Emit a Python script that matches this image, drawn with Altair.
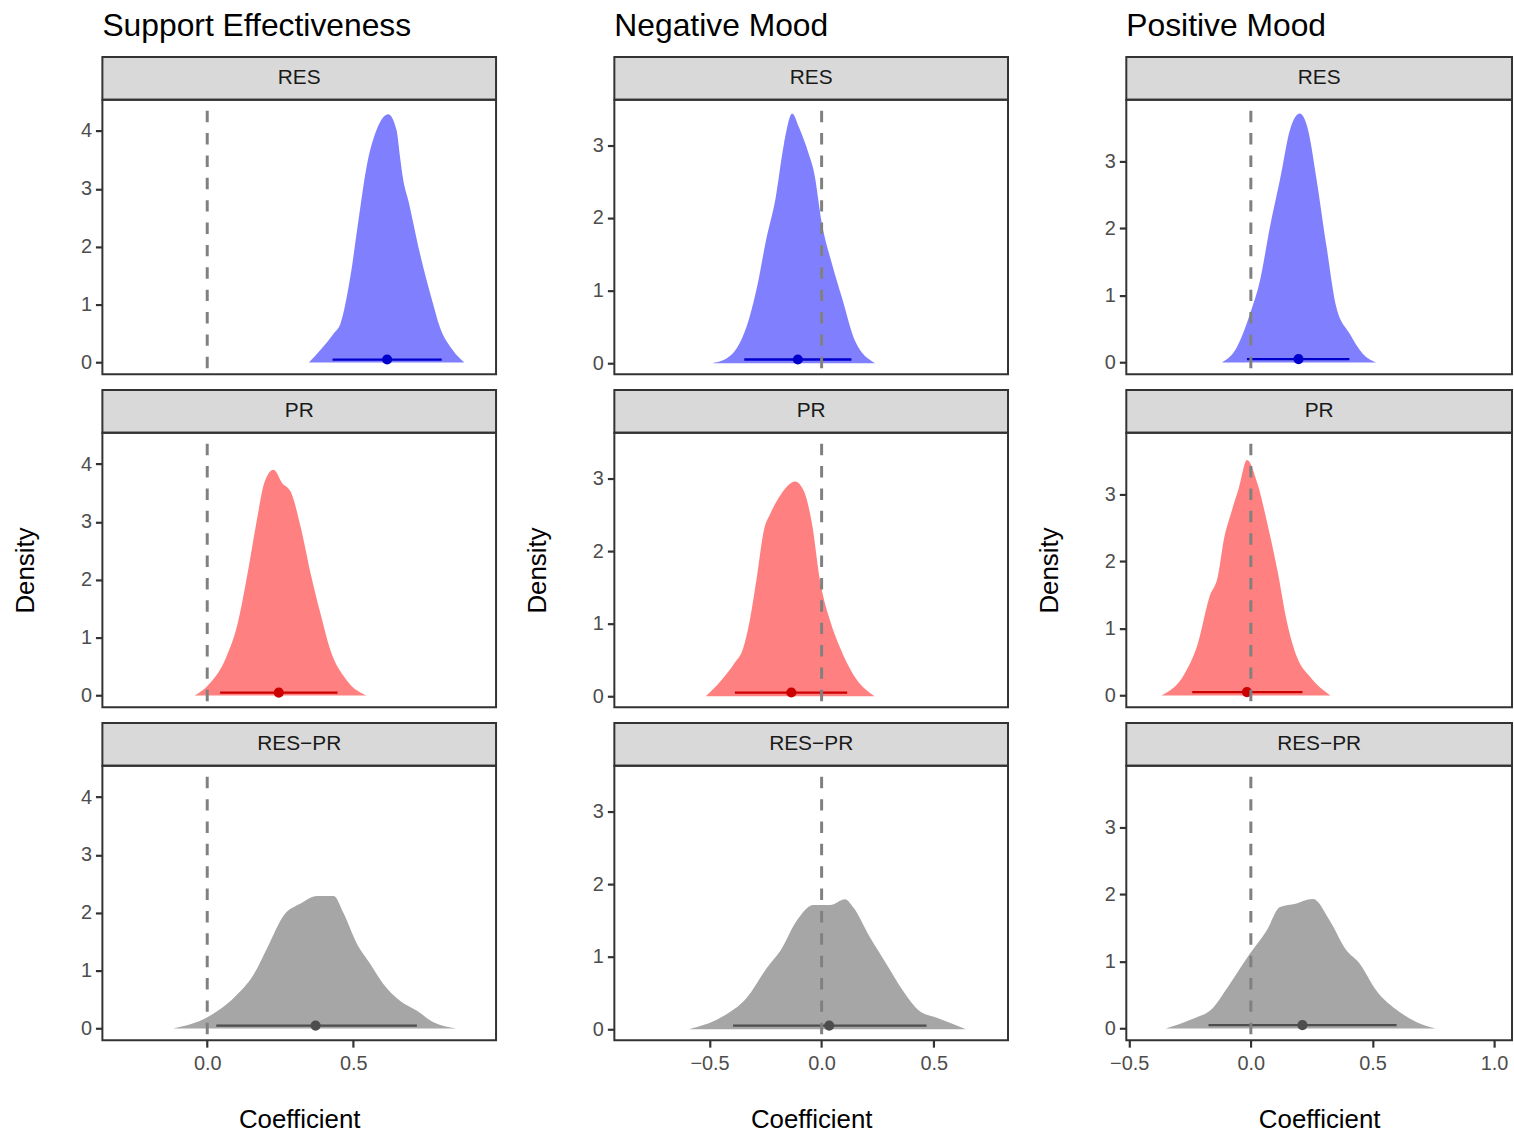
import altair as alt
import pandas as pd

FONT = "Liberation Sans"

outcomes = ["Support Effectiveness", "Negative Mood", "Positive Mood"]
contrasts = ["RES", "PR", "RES\u2212PR"]

# ---- posterior density curves (coefficient, density) ----
se_res_x = [0.348, 0.433, 0.456, 0.490, 0.518, 0.546, 0.580, 0.620, 0.648, 0.660, 0.671, 0.688, 0.728, 0.773, 0.796, 0.841, 0.880]
se_res_d = [0.00, 0.50, 0.67, 1.48, 2.46, 3.39, 4.02, 4.29, 4.02, 3.56, 3.16, 2.81, 1.89, 1.02, 0.62, 0.21, 0.00]

se_pr_x = [-0.043, 0.002, 0.065, 0.104, 0.138, 0.172, 0.195, 0.227, 0.257, 0.286, 0.320, 0.354, 0.388, 0.422, 0.478, 0.546]
se_pr_d = [0.00, 0.17, 0.66, 1.24, 2.11, 3.09, 3.67, 3.90, 3.67, 3.52, 2.91, 2.11, 1.41, 0.78, 0.26, 0.00]

se_diff_x = [-0.117, 0.002, 0.093, 0.161, 0.207, 0.263, 0.320, 0.376, 0.433, 0.467, 0.512, 0.558, 0.603, 0.660, 0.717, 0.773, 0.853]
se_diff_d = [0.00, 0.20, 0.54, 0.95, 1.41, 1.96, 2.16, 2.29, 2.29, 1.99, 1.47, 1.12, 0.77, 0.48, 0.31, 0.11, 0.00]

nm_res_x = [-0.486, -0.412, -0.323, -0.286, -0.249, -0.205, -0.168, -0.131, -0.101, -0.057, -0.035, 0.002, 0.047, 0.091, 0.150, 0.239]
nm_res_d = [0.00, 0.09, 0.62, 1.08, 1.68, 2.28, 3.02, 3.44, 3.25, 2.88, 2.65, 1.91, 1.36, 0.90, 0.30, 0.00]

nm_pr_x = [-0.517, -0.450, -0.390, -0.350, -0.320, -0.287, -0.258, -0.228, -0.184, -0.118, -0.081, -0.043, -0.007, 0.038, 0.082, 0.141, 0.237]
nm_pr_d = [0.00, 0.21, 0.45, 0.66, 1.05, 1.68, 2.28, 2.52, 2.77, 2.96, 2.84, 2.38, 1.59, 1.04, 0.67, 0.30, 0.00]

nm_diff_x = [-0.591, -0.450, -0.332, -0.243, -0.184, -0.110, -0.036, 0.038, 0.104, 0.141, 0.215, 0.289, 0.363, 0.437, 0.511, 0.644]
nm_diff_d = [0.00, 0.16, 0.44, 0.85, 1.08, 1.50, 1.71, 1.71, 1.79, 1.68, 1.27, 0.90, 0.53, 0.25, 0.16, 0.00]

pm_res_x = [-0.119, -0.057, -0.003, 0.038, 0.079, 0.120, 0.161, 0.201, 0.235, 0.270, 0.311, 0.351, 0.406, 0.460, 0.515]
pm_res_d = [0.00, 0.23, 0.73, 1.23, 2.03, 2.73, 3.47, 3.71, 3.47, 2.73, 1.73, 0.83, 0.43, 0.13, 0.00]

pm_pr_x = [-0.368, -0.273, -0.218, -0.170, -0.136, -0.109, -0.082, -0.048, -0.016, 0.027, 0.068, 0.109, 0.150, 0.190, 0.245, 0.327]
pm_pr_d = [0.00, 0.32, 0.77, 1.47, 1.77, 2.36, 2.71, 3.11, 3.51, 3.16, 2.56, 1.87, 1.07, 0.57, 0.27, 0.00]

pm_diff_x = [-0.350, -0.235, -0.166, -0.085, -0.003, 0.065, 0.120, 0.174, 0.256, 0.324, 0.392, 0.447, 0.515, 0.610, 0.678, 0.760]
pm_diff_d = [0.00, 0.15, 0.27, 0.67, 1.12, 1.46, 1.81, 1.85, 1.93, 1.61, 1.17, 0.97, 0.57, 0.25, 0.10, 0.00]

# ---- point estimates and intervals: [RES, PR, RES-PR] ----
se_est = [0.616, 0.245, 0.371]
se_lo = [0.429, 0.044, 0.031]
se_hi = [0.803, 0.446, 0.718]

nm_est = [-0.106, -0.135, 0.034]
nm_lo = [-0.345, -0.387, -0.395]
nm_hi = [0.133, 0.114, 0.468]

pm_est = [0.196, -0.016, 0.212]
pm_lo = [-0.016, -0.241, -0.174]
pm_hi = [0.405, 0.212, 0.599]

interval_y = 0.05

# ---- build tables ----
curves = {
    (0, 0): (se_res_x, se_res_d), (0, 1): (se_pr_x, se_pr_d), (0, 2): (se_diff_x, se_diff_d),
    (1, 0): (nm_res_x, nm_res_d), (1, 1): (nm_pr_x, nm_pr_d), (1, 2): (nm_diff_x, nm_diff_d),
    (2, 0): (pm_res_x, pm_res_d), (2, 1): (pm_pr_x, pm_pr_d), (2, 2): (pm_diff_x, pm_diff_d),
}
summ = [(se_est, se_lo, se_hi), (nm_est, nm_lo, nm_hi), (pm_est, pm_lo, pm_hi)]

rows = []
for (ci, ri), (xs, ds) in curves.items():
    for x, d in zip(xs, ds):
        rows.append({"outcome": outcomes[ci], "contrast": contrasts[ri], "x": x, "d": d})
curve_df = pd.DataFrame(rows)

srows = []
for ci in range(3):
    e, lo, hi = summ[ci]
    for ri in range(3):
        srows.append({"outcome": outcomes[ci], "contrast": contrasts[ri],
                      "est": e[ri], "lo": lo[ri], "hi": hi[ri], "yv": interval_y})
summ_df = pd.DataFrame(srows)

zero_df = pd.DataFrame({"x0": [0.0]})

# ---- styling / layout ----
fill_col = {"RES": "#8080FF", "PR": "#FF8080", "RES\u2212PR": "#A6A6A6"}
dark_col = {"RES": "#0000CD", "PR": "#CD0000", "RES\u2212PR": "#4D4D4D"}

widths = [396, 396, 388]
panel_h = 276
xdom = [[-0.359, 0.989], [-0.9246, 0.8315], [-0.512, -0.512 + 388 / 244.7]]
ydom = [[-0.203, 4.54], [-0.152, 3.63], [-0.175, 3.915]]
xticks = [[0.0, 0.5], [-0.5, 0.0, 0.5], [-0.5, 0.0, 0.5, 1.0]]
yticks = [[0, 1, 2, 3, 4], [0, 1, 2, 3], [0, 1, 2, 3]]


def panel(ci, ri):
    o, c = outcomes[ci], contrasts[ri]
    W = widths[ci]
    xs = alt.Scale(domain=xdom[ci], nice=False, zero=False)
    ys = alt.Scale(domain=ydom[ci], nice=False, zero=False)
    if ri == 2:
        xaxis = alt.Axis(values=xticks[ci], format=".1f", title="Coefficient",
                         titlePadding=34, labelPadding=6)
    else:
        xaxis = None
    yaxis = alt.Axis(values=yticks[ci], title="Density" if ri == 1 else None,
                     titlePadding=42, labelPadding=4)
    ddf = curve_df[(curve_df.outcome == o) & (curve_df.contrast == c)]
    sdf = summ_df[(summ_df.outcome == o) & (summ_df.contrast == c)]

    area = alt.Chart(ddf).mark_area(color=fill_col[c], opacity=1, interpolate="monotone", clip=True).encode(
        x=alt.X("x:Q", scale=xs, axis=xaxis),
        y=alt.Y("d:Q", scale=ys, axis=yaxis),
        y2=alt.datum(0),
    )
    ci_rule = alt.Chart(sdf).mark_rule(color=dark_col[c], strokeWidth=2.3).encode(
        x=alt.X("lo:Q", scale=xs, axis=xaxis),
        x2="hi:Q",
        y=alt.Y("yv:Q", scale=ys, axis=yaxis),
    )
    pt = alt.Chart(sdf).mark_circle(color=dark_col[c], size=105, opacity=1).encode(
        x=alt.X("est:Q", scale=xs, axis=xaxis),
        y=alt.Y("yv:Q", scale=ys, axis=yaxis),
    )
    zero = alt.Chart(zero_df).mark_rule(color="#808080", strokeWidth=3, strokeDash=[11.5, 11],
                                        strokeDashOffset=11.5).encode(
        x=alt.X("x0:Q", scale=xs, axis=xaxis),
    )
    return alt.layer(area, ci_rule, pt, zero).properties(width=W, height=panel_h)


def strip(ci, ri):
    W = widths[ci]
    top = 0 if ri == 0 else 16
    H = 43 + top
    base = alt.Chart(pd.DataFrame({"lab": [contrasts[ri]]}))
    rect = base.mark_rect(fill="#D9D9D9", stroke="#333333", strokeWidth=2).encode(
        x=alt.value(0), x2=alt.value(W), y=alt.value(top), y2=alt.value(H)
    )
    txt = base.mark_text(font=FONT, fontSize=21, color="#1A1A1A", baseline="middle", align="center").encode(
        x=alt.value(W / 2), y=alt.value(top + 21.5), text="lab:N"
    )
    ch = alt.layer(rect, txt).properties(width=W, height=H, view=alt.ViewBackground(stroke="transparent"))
    if ri == 0:
        ch = ch.properties(title=alt.TitleParams(outcomes[ci], anchor="start", frame="group", fontSize=32,
                                                 font=FONT, fontWeight="normal", color="black", offset=13))
    return ch


columns = []
for ci in range(3):
    parts = []
    for ri in range(3):
        parts.append(strip(ci, ri))
        parts.append(panel(ci, ri))
    columns.append(alt.vconcat(*parts, spacing=0, bounds="flush"))

chart = (
    alt.hconcat(*columns, spacing=25)
    .properties(padding={"left": 11, "top": 6, "right": 0, "bottom": 0}, background="white")
    .configure_view(stroke="#333333", strokeWidth=2)
    .configure_axis(
        grid=False, domain=False, ticks=True, tickColor="#333333", tickWidth=2.2, tickSize=7,
        labelFont=FONT, labelFontSize=20, labelColor="#4D4D4D",
        titleFont=FONT, titleFontSize=26, titleColor="black", titleFontWeight="normal",
    )
)

chart.save("out.html", embed_options={"renderer": "svg", "actions": False})
